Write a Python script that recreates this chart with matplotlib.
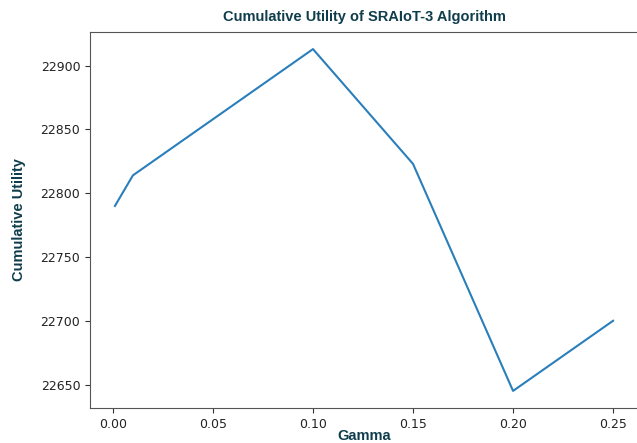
import matplotlib
matplotlib.use("Agg")
import matplotlib.pyplot as plt

gamma = [0.001, 0.01, 0.10, 0.15, 0.20, 0.25]
utility = [22790, 22814, 22913, 22823, 22645, 22700]

W, H = 637, 443
fig = plt.figure(figsize=(W / 100, H / 100), dpi=100)
ax = fig.add_axes([90 / W, 1 - 408 / H, 548 / W, 376 / H])

ax.plot(gamma, utility, color="#2a7fba", linewidth=1.5)

ax.set_xticks([0.00, 0.05, 0.10, 0.15, 0.20, 0.25])
ax.set_yticks([22650, 22700, 22750, 22800, 22850, 22900])
ax.tick_params(labelsize=9, colors="#333333", labelcolor="#222222")
for s in ax.spines.values():
    s.set_color("#555555")
ax.spines["right"].set_visible(False)

tc = "#0f3d4c"
ax.set_title("Cumulative Utility of SRAIoT-3 Algorithm", fontsize=10.5,
             fontweight="bold", color=tc, family="Liberation Sans", pad=8)
ax.set_xlabel("Gamma", fontsize=10.5, fontweight="bold", color=tc,
              family="Liberation Sans")
ax.set_ylabel("Cumulative Utility", fontsize=10.5, fontweight="bold", color=tc,
              family="Liberation Sans")
ax.xaxis.set_label_coords(0.5, -(436 - 408) / 376)
ax.yaxis.set_label_coords(-(90 - 19) / 548, 0.5)
ax.xaxis.label.set_va("center")
ax.yaxis.label.set_va("center")

fig.savefig("out.png", dpi=100)
